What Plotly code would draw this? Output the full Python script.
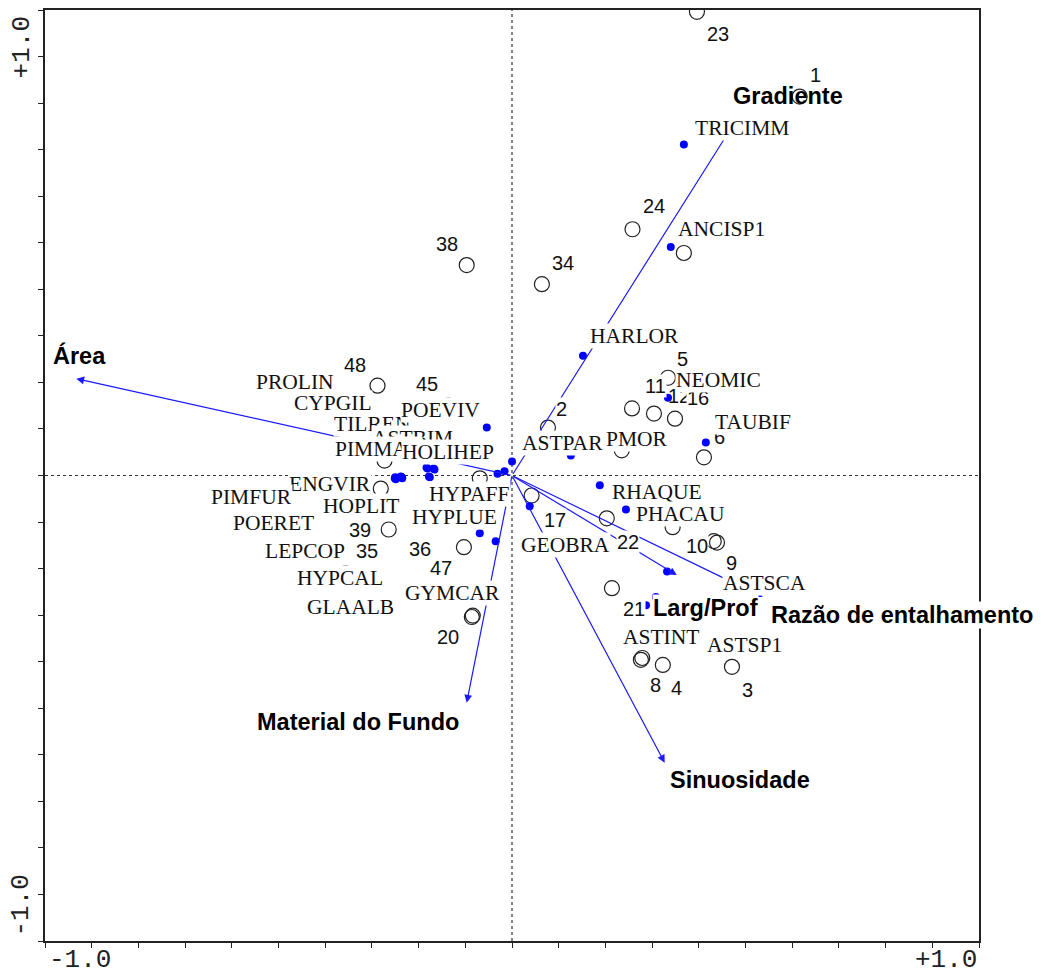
import plotly.graph_objects as go

# ---------------- data (CCA biplot scores) ----------------
site_labels = ["23", "1", "24", "", "38", "34", "48", "45", "2", "5", "11", "12", "16", "6", "",
               "17", "22", "10", "9", "", "21", "8", "", "4", "3", "39", "35", "36", "47", "20",
               "", "", "", ""]
site_x = [0.396, 0.616, 0.258, 0.368, -0.097, 0.064, -0.288, -0.136, 0.077, 0.334, 0.257, 0.304,
          0.349, 0.411, 0.235, 0.042, 0.203, 0.439, 0.432, 0.344, 0.214, 0.276, 0.279, 0.323,
          0.471, -0.264, -0.356, -0.103, -0.108, -0.086, -0.084, -0.281, -0.273, -0.069]
site_y = [0.996, 0.814, 0.529, 0.478, 0.452, 0.411, 0.193, 0.150, 0.103, 0.210, 0.144, 0.133,
          0.122, 0.039, 0.054, -0.043, -0.092, -0.144, -0.141, -0.111, -0.242, -0.396, -0.392,
          -0.407, -0.411, -0.116, -0.210, -0.154, -0.246, -0.304, -0.301, -0.028, 0.032, -0.006]

species_names = ["TILREN", "ASTBIM", "PIMMAC", "HOLIHEP", "PROLIN", "CYPGIL", "POEVIV", "ENGVIR",
                 "PIMFUR", "POERET", "HOPLIT", "LEPCOP", "HYPCAL", "GLAALB", "HYPAFF", "HYPLUE",
                 "GYMCAR", "GEOBRA", "PMOR", "ASTPAR", "HARLOR", "TRICIMM", "ANCISP1", "NEOMIC",
                 "TAUBIF", "RHAQUE", "PHACAU", "ASTSCA", "ASTINT", "ASTSP1"]
species_x = [-0.178, -0.181, -0.168, -0.016, -0.183, -0.166, -0.054, -0.236, -0.251, -0.249,
             -0.238, -0.250, -0.235, -0.176, -0.031, -0.069, -0.035, 0.038, 0.126, 0.000,
             0.152, 0.368, 0.340, 0.334, 0.415, 0.188, 0.244, 0.332, 0.287, 0.308]
species_y = [-0.002, 0.015, 0.015, 0.009, 0.017, 0.013, 0.103, -0.004, -0.006, -0.008,
             -0.002, -0.004, -0.006, -0.004, 0.004, -0.124, -0.141, -0.066, 0.043, 0.030,
             0.257, 0.711, 0.491, 0.167, 0.071, -0.021, -0.073, -0.206, -0.279, -0.261]

env_names = ["Gradiente", "Área", "Material do Fundo", "Sinuosidade",
             "Razão de entalhamento", "Larg/Prof"]
env_x = [0.469, -0.933, -0.097, 0.327, 0.537, 0.353]
env_y = [0.746, 0.208, -0.488, -0.617, -0.261, -0.214]

axis_tick_labels = ["-1.0", "+1.0"]

# ---------------- label placement (pixel offsets, layout only) ----------------
SITE_OFF = {"23": (21, -22), "1": (16, 22), "24": (22, 23), "38": (-20, 21), "34": (21, 21),
            "48": (-23, 21), "45": (-21, 22), "2": (14, 19), "5": (15, 19), "11": (23, 22),
            "12": (25, 18), "16": (23, 21), "6": (16, 20), "17": (23, -24), "22": (21, -24),
            "10": (-20, -3), "9": (18, -22), "21": (22, -21), "8": (15, -25), "4": (14, -23),
            "3": (16, -23), "39": (-29, 0), "35": (21, 22), "36": (-44, -2), "47": (-21, 22),
            "20": (-24, -20)}
SPEC_OFF = {"TRICIMM": (58, 17), "ANCISP1": (51, 18), "HARLOR": (52, 20), "NEOMIC": (51, 18),
            "TAUBIF": (47, 20), "PMOR": (66, 16), "ASTPAR": (50, 19), "POEVIV": (-46, 18),
            "HOLIHEP": (-57, 19), "HYPAFF": (-28, -20), "PIMMAC": (-55, 20), "ASTBIM": (-15, 31),
            "TILREN": (-56, 52), "ENGVIR": (-72, -7), "PIMFUR": (-143, -19), "HYPLUE": (-25, 16),
            "GYMCAR": (-43, -52), "GEOBRA": (36, -39), "RHAQUE": (57, -7), "PHACAU": (55, -5),
            "ASTSCA": (97, -12), "ASTSP1": (89, -48), "ASTINT": (15, -32), "PROLIN": (-132, 86),
            "CYPGIL": (-101, 66), "POERET": (-122, -44), "HOPLIT": (-40, -30),
            "LEPCOP": (-90, -74), "HYPCAL": (-62, -100), "GLAALB": (-79, -130)}
ENV_OFF = {"Gradiente": (57, 32), "Área": (3, 23), "Material do Fundo": (-109, -19),
           "Sinuosidade": (75, -17), "Razão de entalhamento": (139, -18), "Larg/Prof": (29, -33)}
ENV_NOBG = {"Gradiente"}

SITE_FONT = dict(family="Liberation Sans, Arial, sans-serif", size=20, color="#111111")
SPEC_FONT = dict(family="Liberation Serif, Times New Roman, serif", size=21.5, color="#111111")
ENV_FONT = dict(family="Liberation Sans, Arial, sans-serif", size=23.5, color="#000000",
                weight="bold")
TICK_FONT = dict(family="Liberation Mono, Courier New, monospace", size=26, color="#222222")
BLUE = "#0000ff"
ARROW_BLUE = "#1a1aff"

fig = go.Figure()

# dotted centre lines
fig.add_shape(type="line", xref="x", yref="y", x0=-1, x1=1, y0=0, y1=0, layer="below",
              line=dict(color="#333333", width=1.2, dash="dot"))
fig.add_shape(type="line", xref="x", yref="y", x0=0, x1=0, y0=-1, y1=1, layer="below",
              line=dict(color="#333333", width=1.2, dash="dot"))

fig.add_trace(go.Scatter(x=site_x, y=site_y, mode="markers", hoverinfo="skip",
                         marker=dict(symbol="circle-open", size=15, color="#222222",
                                     line=dict(width=1.2))))
fig.add_trace(go.Scatter(x=species_x, y=species_y, mode="markers", hoverinfo="skip",
                         marker=dict(symbol="circle", size=8, color=BLUE,
                                     line=dict(width=0))))

ann = []
# environmental arrows
for name, ex, ey in zip(env_names, env_x, env_y):
    ann.append(dict(x=ex, y=ey, ax=0, ay=0, xref="x", yref="y", axref="x", ayref="y",
                    text="", showarrow=True, arrowhead=2, arrowsize=1.3, arrowwidth=1.2,
                    arrowcolor=ARROW_BLUE))
# site labels
for lab, sx, sy in zip(site_labels, site_x, site_y):
    if not lab:
        continue
    dx, dy = SITE_OFF[lab]
    ann.append(dict(x=sx, y=sy, xref="x", yref="y", text=lab, showarrow=False,
                    xshift=dx, yshift=dy, xanchor="center", yanchor="middle",
                    font=SITE_FONT, bgcolor="white" if lab != "12" else "rgba(0,0,0,0)",
                    borderpad=0))
# species labels
for name, sx, sy in zip(species_names, species_x, species_y):
    dx, dy = SPEC_OFF[name]
    ann.append(dict(x=sx, y=sy, xref="x", yref="y", text=name, showarrow=False,
                    xshift=dx, yshift=dy, xanchor="center", yanchor="middle",
                    font=SPEC_FONT, bgcolor="white", borderpad=0))
# environmental labels
for name, ex, ey in zip(env_names, env_x, env_y):
    dx, dy = ENV_OFF[name]
    ann.append(dict(x=ex, y=ey, xref="x", yref="y", text=name, showarrow=False,
                    xshift=dx, yshift=dy, xanchor="center", yanchor="middle",
                    font=ENV_FONT,
                    bgcolor="rgba(0,0,0,0)" if name in ENV_NOBG else "white",
                    borderpad=0))
# axis end labels
ann.append(dict(x=0.0375, y=-0.0209, xref="paper", yref="paper", text=axis_tick_labels[0],
                showarrow=False, xanchor="center", yanchor="middle", font=TICK_FONT,
                borderpad=0))
ann.append(dict(x=0.9647, y=-0.0209, xref="paper", yref="paper", text=axis_tick_labels[1],
                showarrow=False, xanchor="center", yanchor="middle", font=TICK_FONT,
                borderpad=0))
ann.append(dict(x=-0.0252, y=0.9603, xref="paper", yref="paper", text=axis_tick_labels[1],
                showarrow=False, xanchor="center", yanchor="middle", textangle=-90,
                font=TICK_FONT, borderpad=0))
ann.append(dict(x=-0.0252, y=0.0386, xref="paper", yref="paper", text=axis_tick_labels[0],
                showarrow=False, xanchor="center", yanchor="middle", textangle=-90,
                font=TICK_FONT, borderpad=0))

axis_common = dict(range=[-1, 1], showgrid=False, zeroline=False, showline=True, mirror=True,
                   linecolor="#222222", linewidth=1.5, ticks="outside", ticklen=5,
                   tickwidth=1.2, tickcolor="#222222", tick0=0, dtick=0.1,
                   showticklabels=False, fixedrange=True)

fig.update_layout(width=1046, height=976, margin=dict(l=45, r=67, t=8, b=35),
                  paper_bgcolor="white", plot_bgcolor="white", showlegend=False,
                  xaxis=axis_common, yaxis=axis_common, annotations=ann, hovermode=False)

fig.write_html("out.html", config={"displayModeBar": False},
               post_script="document.body.style.margin='0';document.body.style.overflow='hidden';")
